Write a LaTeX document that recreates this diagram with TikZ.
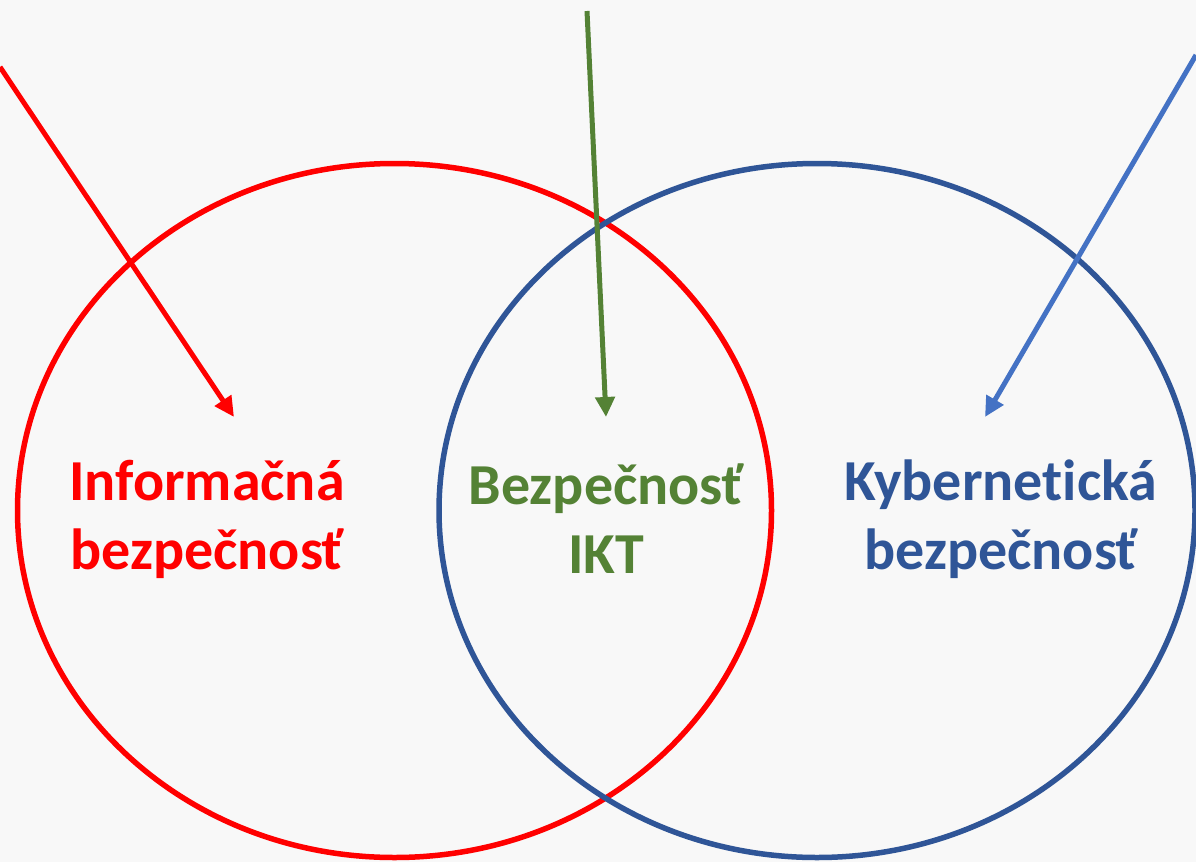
\documentclass[tikz,border=0pt]{standalone}
\usepackage{fontspec}
\setmainfont{Carlito}[Ligatures=NoCommon]
\usetikzlibrary{arrows.meta}
\definecolor{bg}{HTML}{F8F8F8}
\definecolor{infored}{HTML}{FF0000}
\definecolor{ictgreen}{HTML}{548235}
\definecolor{cyberblue}{HTML}{2F5597}
\definecolor{arrowblue}{HTML}{4472C4}
\tikzset{
  lbl/.style={align=center, inner sep=0pt, font=\fontsize{58}{69}\selectfont\bfseries},
  ring/.style={line width=5.5pt},
  pointer/.style={line width=5pt, -{Triangle[length=20pt,width=19pt]}},
}
\begin{document}
\begin{tikzpicture}[x=1pt,y=-1pt]
\path[fill=bg] (0,0) rectangle (1196,862);
\useasboundingbox (0,0) rectangle (1196,862);
% circles
\draw[ring, infored] (394.5,510.5) ellipse [x radius=377, y radius=347];
\draw[ring, cyberblue] (817,510.5) ellipse [x radius=378, y radius=347];
% labels
\node[lbl, text=infored] (info) at (207,519) {Informačná\\bezpečnosť};
\node[lbl, text=ictgreen] (ict) at (606,519) {Bezpečnosť\\IKT};
\node[lbl, text=cyberblue] (cyber) at (1001,519) {Kybernetická\\bezpečnosť};
% arrow anchors
\coordinate (rs) at (0,67);
\coordinate (rt) at (234,417);
\coordinate (gs) at (587,11);
\coordinate (gt) at (606,417);
\coordinate (bs) at (1196,55);
\coordinate (bt) at (985,417);
\draw[pointer, infored] (rs) -- (rt);
\draw[pointer, ictgreen] (gs) -- (gt);
\draw[pointer, arrowblue] (bs) -- (bt);
\end{tikzpicture}
\end{document}
